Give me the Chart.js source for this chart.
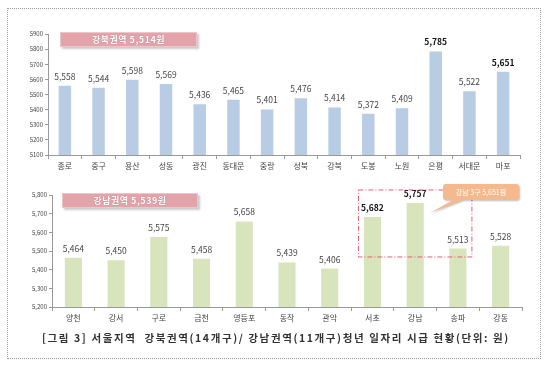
<!DOCTYPE html>
<html>
<head>
<meta charset="utf-8">
<script src="https://cdn.jsdelivr.net/npm/chart.js@4"></script>
<style>
  body { margin: 0; background: #fff; }
  #wrap { position: relative; width: 550px; height: 368px; overflow: hidden; }
  #wrap canvas { position: absolute; left: 0; top: 0; }
  .frame { position: absolute; left: 7px; top: 8px; width: 534px; height: 351px; border: 1px dotted #9a9a9a; box-sizing: border-box; }
  .tag { position: absolute; height: 15px; line-height: 15px; background: #e3a3aa; border: 1px solid #eec6ca;
         box-shadow: 2px 2px 2px #c9c9c9; color: #fff; font: bold 9px "Noto Sans CJK KR", sans-serif;
         text-align: center; text-shadow: 0 0 1px #a46a70; letter-spacing: 0.5px; box-sizing: border-box; }
  .caption { position: absolute; left: 42px; top: 330px; font: bold 10.5px "Noto Sans CJK KR", sans-serif;
             color: #333; letter-spacing: 1.6px; white-space: nowrap; }
</style>
</head>
<body>
<div id="wrap">
  <div class="frame"></div>
  <canvas id="northChart" width="550" height="368"></canvas>
  <canvas id="southChart" width="550" height="368"></canvas>
  <div class="tag" style="left:60px; top:32px; width:137px;">강북권역 5,514원</div>
  <div class="tag" style="left:62px; top:193px; width:136px;">강남권역 5,539원</div>
  <div class="caption">[그림 3] 서울지역 &nbsp;강북권역(14개구)/ 강남권역(11개구)청년 일자리 시급 현황(단위: 원)</div>
</div>
<script>
// 강북권역 (14개구)
const northGu = ['종로', '중구', '용산', '성동', '광진', '동대문', '중랑', '성북', '강북', '도봉', '노원', '은평', '서대문', '마포'];
const northWage = [5558, 5544, 5598, 5569, 5436, 5465, 5401, 5476, 5414, 5372, 5409, 5785, 5522, 5651];
const northBold = [11, 13];

// 강남권역 (11개구)
const southGu = ['양천', '강서', '구로', '금천', '영등포', '동작', '관악', '서초', '강남', '송파', '강동'];
const southWage = [5464, 5450, 5575, 5458, 5658, 5439, 5406, 5682, 5757, 5513, 5528];
const southBold = [7, 8];

const calloutText = '강남 3구 5,651원';
const FONT = '"Noto Sans CJK KR", sans-serif';

// 막대 위 값 표시
const valueLabels = {
  id: 'valueLabels',
  afterDatasetsDraw(chart, args, opts) {
    const ctx = chart.ctx;
    const meta = chart.getDatasetMeta(0);
    ctx.save();
    ctx.textAlign = 'center';
    ctx.textBaseline = 'bottom';
    meta.data.forEach((bar, i) => {
      const bold = opts.bold.includes(i);
      ctx.font = (bold ? 'bold ' : '') + '8.5px ' + FONT;
      ctx.fillStyle = bold ? '#111' : '#444';
      ctx.fillText(chart.data.datasets[0].data[i].toLocaleString('en-US'), bar.x, bar.y - 5);
    });
    ctx.restore();
  }
};

// 강남 3구 점선 박스 + 말풍선
const southNote = {
  id: 'southNote',
  afterDraw(chart) {
    const ctx = chart.ctx;
    const x = chart.scales.x, y = chart.scales.y;
    const left = x.getPixelForValue(7) - 14, right = x.getPixelForValue(9) + 14;
    const top = y.getPixelForValue(5827), bottom = y.getPixelForValue(5468);
    ctx.save();
    ctx.strokeStyle = '#e06070';
    ctx.lineWidth = 1;
    ctx.setLineDash([5, 2, 1, 2]);
    ctx.strokeRect(left, top, right - left, bottom - top);
    ctx.setLineDash([]);

    // 말풍선
    const bx = 443, by = 184, bw = 76, bh = 16;
    ctx.shadowColor = 'rgba(0,0,0,0.25)';
    ctx.shadowOffsetX = 1; ctx.shadowOffsetY = 1; ctx.shadowBlur = 2;
    ctx.fillStyle = '#f4b98c';
    ctx.beginPath();
    ctx.moveTo(bx + 3, by);
    ctx.lineTo(bx + bw - 3, by);
    ctx.quadraticCurveTo(bx + bw, by, bx + bw, by + 3);
    ctx.lineTo(bx + bw, by + bh - 3);
    ctx.quadraticCurveTo(bx + bw, by + bh, bx + bw - 3, by + bh);
    ctx.lineTo(bx + 20, by + bh);
    ctx.lineTo(430, 213);
    ctx.lineTo(bx + 10, by + bh);
    ctx.lineTo(bx + 3, by + bh);
    ctx.quadraticCurveTo(bx, by + bh, bx, by + bh - 3);
    ctx.lineTo(bx, by + 3);
    ctx.quadraticCurveTo(bx, by, bx + 3, by);
    ctx.closePath();
    ctx.fill();
    ctx.shadowColor = 'transparent';
    ctx.fillStyle = '#fff';
    ctx.font = '7px ' + FONT;
    ctx.textAlign = 'center';
    ctx.textBaseline = 'middle';
    ctx.fillText(calloutText, bx + bw / 2, by + bh / 2 + 0.5);
    ctx.restore();
  }
};

function makeChart(id, labels, values, o) {
  return new Chart(document.getElementById(id), {
    type: 'bar',
    data: {
      labels: labels,
      datasets: [{
        data: values,
        backgroundColor: o.color,
        barPercentage: o.barPct,
        categoryPercentage: 1.0,
      }],
    },
    options: {
      responsive: false,
      animation: false,
      layout: { padding: { left: 8, top: o.top, right: o.right, bottom: 0 } },
      scales: {
        x: {
          grid: { display: true, drawOnChartArea: false, tickLength: 4, color: '#999', offset: true },
          border: { color: '#999' },
          ticks: { color: '#444', font: { size: 8, family: FONT }, padding: 2 },
          afterFit: (s) => { s.height = o.xHeight; },
        },
        y: {
          min: o.min, max: o.max,
          grid: { display: true, drawOnChartArea: false, tickLength: 3, color: '#999' },
          border: { color: '#999' },
          ticks: {
            stepSize: 100,
            color: '#444',
            font: { size: 6, family: FONT },
            padding: 2,
            callback: o.tickFmt,
          },
          afterFit: (s) => { s.width = o.yWidth; },
        },
      },
      plugins: {
        legend: { display: false },
        tooltip: { enabled: false },
        valueLabels: { bold: o.bold },
      },
    },
    plugins: o.plugins,
  });
}

makeChart('northChart', northGu, northWage, {
  color: '#b8cce4', barPct: 0.37, min: 5100, max: 5900,
  top: 34, right: 30, xHeight: 213, yWidth: 40,
  tickFmt: (v) => String(v), bold: northBold, plugins: [valueLabels],
});

makeChart('southChart', southGu, southWage, {
  color: '#d7e4bc', barPct: 0.4, min: 5200, max: 5800,
  top: 195, right: 28, xHeight: 61, yWidth: 44,
  tickFmt: (v) => v.toLocaleString('en-US'), bold: southBold, plugins: [valueLabels, southNote],
});
</script>
</body>
</html>
